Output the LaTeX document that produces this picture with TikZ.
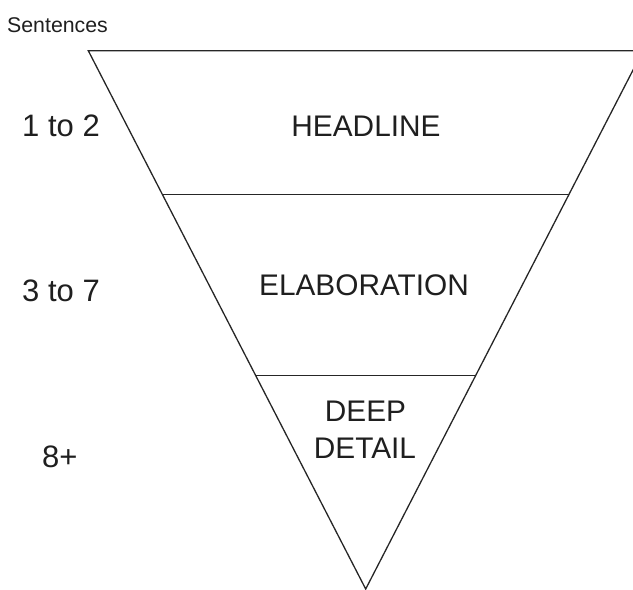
\documentclass[tikz,border=0pt]{standalone}
\usepackage{fontspec}
\setmainfont{Liberation Sans}
\usetikzlibrary{calc}
\begin{document}
\begin{tikzpicture}[x=1pt,y=-1pt,
  edge/.style={line width=1.3pt, draw=black!85},
  big/.style={font=\fontsize{29.8}{36.5}\selectfont, text=black!88, inner sep=0pt, anchor=base},
  side/.style={font=\fontsize{31}{36.5}\selectfont, text=black!88, inner sep=0pt, anchor=base},
  small/.style={font=\fontsize{21.3}{24}\selectfont, text=black!88, inner sep=0pt, anchor=base west}]
\useasboundingbox (0,0) rectangle (633,590);
\clip (0,0) rectangle (633,590);
\coordinate (tl) at (88.3,50.7);
\coordinate (tr) at (643,50.7);
\coordinate (ap) at (365.7,589);
\draw[edge, line join=miter] (tl) -- (tr) -- (ap) -- cycle;
\coordinate (l1) at ($(tl)!0.2675!(ap)$);
\coordinate (r1) at ($(tr)!0.2675!(ap)$);
\coordinate (l2) at ($(tl)!0.603!(ap)$);
\coordinate (r2) at ($(tr)!0.603!(ap)$);
\draw[edge] (l1) -- (r1);
\draw[edge] (l2) -- (r2);
\node[small] (sent) at (7,32.3) {Sentences};
\node[big] (h) at (366,136) {HEADLINE};
\node[big] (e) at (364,295) {ELABORATION};
\node[big] (d1) at (365.5,421.7) {DEEP};
\node[big] (d2) at (365,458) {DETAIL};
\node[side] (s1) at (61,136) {1 to 2};
\node[side] (s2) at (61,301.7) {3 to 7};
\node[side] (s3) at (59.7,467) {8+};
\end{tikzpicture}
\end{document}
